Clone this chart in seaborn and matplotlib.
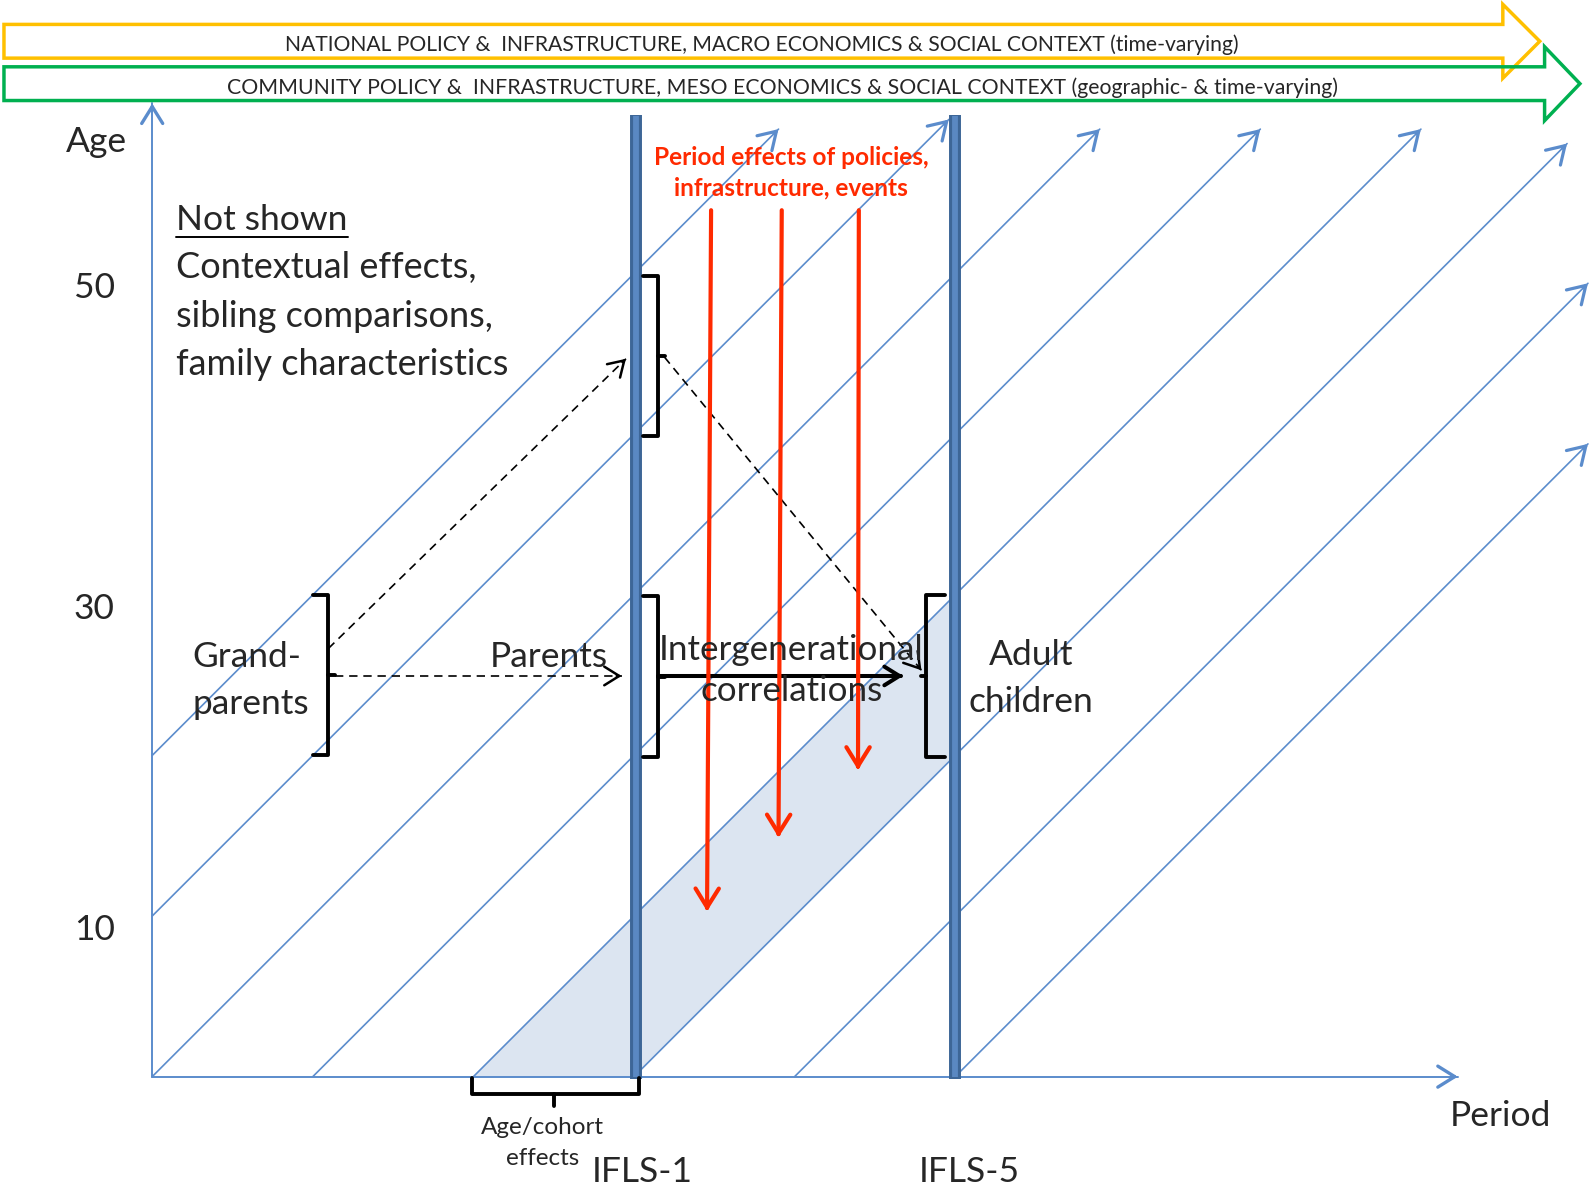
"""
Lexis diagram: grandparents -> parents -> adult children across IFLS waves
"""
import numpy as np
import pandas as pd
import matplotlib
matplotlib.use("Agg")
import matplotlib.pyplot as plt
from matplotlib.patches import Polygon
import seaborn as sns

sns.set_theme(style="white")
plt.rcParams["font.family"] = ["Lato", "DejaVu Sans"]

# ============================================================
# Data (period on x, age on y, both in years)
# ============================================================
cohort_starts = [-20, -10, 0, 10, 20, 30, 40, 50]
cohort_end_ages = [59.0, 59.6, 59.0, 59.0, 59.0, 58.1, 49.4, 39.4]
age_ticks = [10, 30, 50]
axis_age_max = 60.6
axis_period_max = 81.3

survey_periods = [30.1, 50.0]
survey_labels = ["IFLS-1", "IFLS-5"]
survey_label_x = [30.5, 50.85]
survey_top = 59.9
band_cohorts = [20, 30]          # shaded birth-cohort band

banner_labels = [
    "NATIONAL POLICY &  INFRASTRUCTURE, MACRO ECONOMICS & SOCIAL CONTEXT (time-varying)",
    "COMMUNITY POLICY &  INFRASTRUCTURE, MESO ECONOMICS & SOCIAL CONTEXT (geographic- & time-varying)",
]
banner_colors = ["#ffc000", "#00b050"]
banner_mid = [64.47, 61.83]
banner_body_end = [84.1, 86.7]
banner_tip = [86.4, 88.9]
banner_text_x = [37.99, 39.26]
banner_text_base = [63.87, 61.17]
banner_font = [15.2, 15.35]

# red period-effect arrows
red_x_top = [34.8, 39.2, 44.0]
red_x_tip = [34.55, 39.0, 43.95]
red_y_top = 53.95
red_y_tip = [10.3, 14.9, 19.1]

# brackets: (position, span start, span end)
gp_bracket = (10.93, 20.0, 30.0)
parent_bracket = (31.5, 19.9, 29.9)
parent_upper_bracket = (31.5, 39.9, 49.85)
child_bracket = (48.2, 19.9, 30.0)
cohort_bracket = (-1.07, 19.9, 30.3)

not_shown_lines = ["Contextual effects,", "sibling comparisons,", "family characteristics"]
not_shown_base = [49.72, 46.69, 43.66]

BLUE = "#5b8ccc"
RED = "#ff2a00"

# ============================================================
# Figure
# ============================================================
fig = plt.figure(figsize=(15.91, 11.86), dpi=100)
ax = fig.add_axes([0, 0, 1, 1])
ax.set_xlim(-9.477, 89.59)
ax.set_ylim(-6.81, 67.04)
ax.axis("off")


def arrow_head(x0, y0, x1, y1, color, lw, scale, back=0.4):
    d = np.array([x1 - x0, y1 - y0], dtype=float)
    d /= np.hypot(*d)
    ax.annotate("", xy=(x1, y1), xytext=(x1 - d[0] * back, y1 - d[1] * back),
                arrowprops=dict(arrowstyle="->,head_length=0.45,head_width=0.28",
                                color=color, lw=lw, shrinkA=0, shrinkB=0,
                                mutation_scale=scale, joinstyle="round",
                                capstyle="round"), zorder=6)


# shaded cohort band
c0, c1 = band_cohorts
s5 = survey_periods[1]
ax.add_patch(Polygon([(c0, 0), (c1, 0), (s5, s5 - c1), (s5, s5 - c0)],
                     closed=True, facecolor="#dce5f1", edgecolor="none", zorder=1))

# cohort life lines
rows = []
for c, top in zip(cohort_starts, cohort_end_ages):
    rows.append({"cohort": c, "period": max(c, 0), "age": max(-c, 0)})
    rows.append({"cohort": c, "period": c + top, "age": top})
lines = pd.DataFrame(rows)
sns.lineplot(data=lines, x="period", y="age", units="cohort", estimator=None,
             sort=False, color=BLUE, lw=1.2, ax=ax, zorder=2)
ax.axis("off")
for c, top in zip(cohort_starts, cohort_end_ages):
    arrow_head(max(c, 0), max(-c, 0), c + top, top, BLUE, 2.3, 27)

# axes arrows
ax.plot([0, 0], [0, axis_age_max], color=BLUE, lw=1.4, zorder=2)
ax.plot([0, axis_period_max], [0, 0], color=BLUE, lw=1.4, zorder=2)
arrow_head(0, 0, 0, axis_age_max, BLUE, 2.4, 27)
arrow_head(0, 0, axis_period_max, 0, BLUE, 2.4, 27)

# survey waves
for x, lx, lab in zip(survey_periods, survey_label_x, survey_labels):
    ax.plot([x, x], [-0.13, survey_top], color="#3d6697", lw=8.6,
            solid_capstyle="butt", zorder=4)
    ax.plot([x, x], [-0.05, survey_top - 0.08], color="#5a88c2", lw=4.2,
            solid_capstyle="butt", zorder=4)
    ax.text(lx, -6.57, lab, fontsize=25.5, ha="center", va="baseline")

# age labels
ax.text(-3.46, 57.58, "Age", fontsize=25.5, ha="center", va="baseline")
for a in age_ticks:
    ax.text(-3.61, a - 1.5, str(a), fontsize=25.5, ha="center", va="baseline")
ax.text(83.95, -3.08, "Period", fontsize=25.5, ha="center", va="baseline")

# top context banners
for lab, col, ym, be, tip, tx, tb, fs in zip(banner_labels, banner_colors, banner_mid,
                                             banner_body_end, banner_tip,
                                             banner_text_x, banner_text_base, banner_font):
    bh, hh = 1.05, 2.3
    pts = [(-9.23, ym + bh), (be, ym + bh), (be, ym + hh), (tip, ym),
           (be, ym - hh), (be, ym - bh), (-9.23, ym - bh)]
    ax.add_patch(Polygon(pts, closed=True, fill=False, edgecolor=col, lw=2.5,
                         joinstyle="miter", zorder=5))
    ax.text(tx, tb, lab, fontsize=fs, ha="center", va="baseline")


# brackets
def v_bracket(x, y0, y1, arm, tick):
    ym = (y0 + y1) / 2
    ax.plot([x + arm, x, x, x + arm], [y1, y1, y0, y0], color="black", lw=2.8,
            solid_joinstyle="round", solid_capstyle="round", zorder=5)
    ax.plot([x, x + tick], [ym, ym], color="black", lw=2.8,
            solid_capstyle="round", zorder=5)


v_bracket(gp_bracket[0], gp_bracket[1], gp_bracket[2], -0.9, 0.45)
v_bracket(parent_bracket[0], parent_bracket[1], parent_bracket[2], -0.95, 0.45)
v_bracket(parent_upper_bracket[0], parent_upper_bracket[1], parent_upper_bracket[2], -0.95, 0.45)
v_bracket(child_bracket[0], child_bracket[1], child_bracket[2], 1.15, -0.3)

yb, xb0, xb1 = cohort_bracket
xm = (xb0 + xb1) / 2 - 0.1
ax.plot([xb0, xb0, xb1, xb1], [-0.1, yb, yb, -0.1], color="black", lw=2.8,
        solid_joinstyle="round", solid_capstyle="round", zorder=5)
ax.plot([xm, xm], [yb, yb - 0.75], color="black", lw=2.8, solid_capstyle="round", zorder=5)
ax.text(24.3, -3.6, "Age/cohort", fontsize=17.5, ha="center", va="baseline")
ax.text(24.3, -5.5, "effects", fontsize=17.5, ha="center", va="baseline")

# dashed transmission arrows
dashed = [((10.97, 26.66), (29.5, 44.7)),
          ((11.37, 24.95), (29.23, 24.95)),
          ((31.9, 44.8), (47.9, 25.3))]
for (x0, y0), (x1, y1) in dashed:
    ax.plot([x0, x1], [y0, y1], color="black", lw=1.2, ls=(0, (5, 3.5)), zorder=5)
    arrow_head(x0, y0, x1, y1, "black", 1.8, 24, back=0.3)

# intergenerational correlation arrow
ax.plot([31.5, 46.6], [24.95, 24.95], color="black", lw=2.9, zorder=5)
arrow_head(31.5, 24.95, 46.76, 24.95, "black", 2.9, 24, back=0.3)

# period effects
for xt, xb, yb_ in zip(red_x_top, red_x_tip, red_y_tip):
    ax.plot([xt, xb], [red_y_top, yb_ + 0.2], color=RED, lw=3.0, zorder=6)
    arrow_head(xt, red_y_top, xb, yb_, RED, 3.0, 30, back=0.3)
ax.text(39.8, 56.75, "Period effects of policies,", fontsize=17.6, fontweight="bold",
        color=RED, ha="center", va="baseline", zorder=7)
ax.text(39.8, 54.88, "infrastructure, events", fontsize=17.6, fontweight="bold",
        color=RED, ha="center", va="baseline", zorder=7)

# labels
ax.text(2.53, 25.52, "Grand-", fontsize=25.5, ha="left", va="baseline")
ax.text(2.53, 22.6, "parents", fontsize=25.5, ha="left", va="baseline")
ax.text(24.71, 25.52, "Parents", fontsize=25.5, ha="center", va="baseline")
ax.text(39.8, 25.96, "Intergenerational", fontsize=25.2, ha="center", va="baseline", zorder=7)
ax.text(39.8, 23.37, "correlations", fontsize=25.2, ha="center", va="baseline", zorder=7)
ax.text(54.7, 25.62, "Adult", fontsize=25.5, ha="center", va="baseline")
ax.text(54.7, 22.72, "children", fontsize=25.5, ha="center", va="baseline")

t = ax.text(1.5, 52.7, "Not shown", fontsize=25.5, ha="left", va="baseline")
for y, line in zip(not_shown_base, not_shown_lines):
    ax.text(1.5, y, line, fontsize=26, ha="left", va="baseline")

# underline "Not shown" using its rendered extent
fig.canvas.draw()
bb = t.get_window_extent().transformed(ax.transData.inverted())
ax.plot([bb.x0, bb.x1], [52.3, 52.3], color="black", lw=1.4)

fig.savefig("out.png", dpi=100)
plt.close(fig)
